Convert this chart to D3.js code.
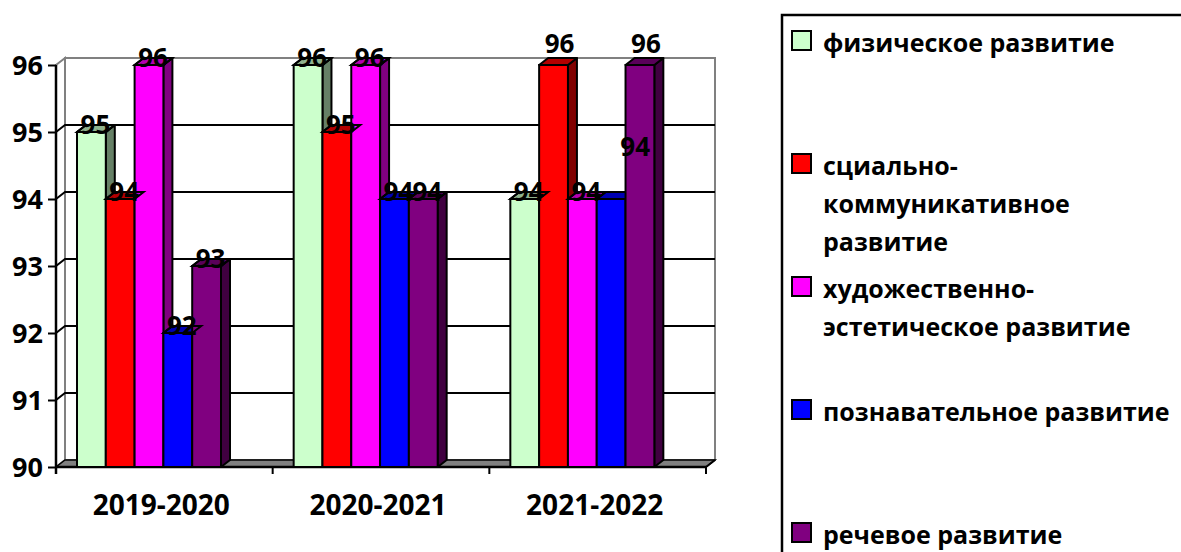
<!DOCTYPE html>
<html>
<head>
<meta charset="utf-8">
<script src="https://cdnjs.cloudflare.com/ajax/libs/d3/7.8.5/d3.min.js"></script>
<style>
  body { margin: 0; background: #fff; }
  text { font-family: "Open Sans", sans-serif; font-weight: bold; fill: #000; }
</style>
</head>
<body>
<svg width="1181" height="552"></svg>
<script>
const years = ['2019-2020', '2020-2021', '2021-2022'];
const seriesNames = [
  'физическое развитие',
  'сциально-коммуникативное развитие',
  'художественно-эстетическое развитие',
  'познавательное развитие',
  'речевое развитие'
];
// legend lines as in the picture
const legendLines = [
  ['физическое развитие'],
  ['сциально-', 'коммуникативное', 'развитие'],
  ['художественно-', 'эстетическое развитие'],
  ['познавательное развитие'],
  ['речевое развитие']
];
const colors = ['#CCFFCC', '#FF0000', '#FF00FF', '#0000FF', '#800080'];
// values per year, one per series
const values2019 = [95, 94, 96, 92, 93];
const values2020 = [96, 95, 96, 94, 94];
const values2021 = [94, 96, 94, 94, 96];
const yTicks = [90, 91, 92, 93, 94, 95, 96];

const valuesByYear = [values2019, values2020, values2021];

const svg = d3.select('svg');

// plot frame (front plane) and 3d depth
const pLeft = 56, pRight = 706, pTop = 65, pBottom = 467;
const dx = 9, dy = -7;

const y = d3.scaleLinear().domain([90, 96]).range([pBottom, pTop]);
const x0 = d3.scaleBand().domain(years).range([pLeft, pRight]);
const groupPad = 21, groupWidth = 144;
const x1 = d3.scaleBand().domain(d3.range(seriesNames.length)).range([0, groupWidth]);

const g = svg.append('g');

// back wall
g.append('rect')
  .attr('x', pLeft + dx).attr('y', pTop + dy)
  .attr('width', pRight - pLeft).attr('height', pBottom - pTop)
  .attr('fill', '#fff').attr('stroke', '#808080').attr('stroke-width', 2);

// left wall
g.append('path')
  .attr('d', `M${pLeft},${pTop}L${pLeft + dx},${pTop + dy}L${pLeft + dx},${pBottom + dy}L${pLeft},${pBottom}Z`)
  .attr('fill', '#fff').attr('stroke', '#808080').attr('stroke-width', 2);

// gridlines on walls
yTicks.filter(t => t > 90 && t < 96).forEach(t => {
  g.append('path')
    .attr('d', `M${pLeft},${y(t)}L${pLeft + dx},${y(t) + dy}L${pRight + dx},${y(t) + dy}`)
    .attr('fill', 'none').attr('stroke', '#000').attr('stroke-width', 2);
});

// floor
g.append('path')
  .attr('d', `M${pLeft},${pBottom}L${pRight},${pBottom}L${pRight + dx},${pBottom + dy}L${pLeft + dx},${pBottom + dy}Z`)
  .attr('fill', '#808080').attr('stroke', '#000').attr('stroke-width', 1.5);

// y axis
const yAxisG = g.append('g')
  .attr('transform', `translate(${pLeft},0)`)
  .call(d3.axisLeft(y).tickValues(yTicks).tickSize(8).tickPadding(5).tickFormat(d3.format('d')));
yAxisG.select('.domain').attr('d', `M0,${pTop}V${pBottom + 7}`).attr('stroke', '#000').attr('stroke-width', 2.5);
yAxisG.selectAll('.tick line').attr('stroke', '#000').attr('stroke-width', 2);
yAxisG.selectAll('.tick text')
  .style('font-family', '"Open Sans", sans-serif').style('font-weight', 'bold')
  .attr('font-size', 27).attr('dy', '0.36em');

// x axis
const xAxisG = g.append('g').attr('transform', `translate(0,${pBottom})`);
xAxisG.append('line').attr('x1', pLeft).attr('x2', pRight)
  .attr('stroke', '#000').attr('stroke-width', 2.5);
years.forEach(yr => {
  xAxisG.append('line')
    .attr('x1', x0(yr) + x0.bandwidth()).attr('x2', x0(yr) + x0.bandwidth())
    .attr('y1', 0).attr('y2', 7)
    .attr('stroke', '#000').attr('stroke-width', 2);
});
xAxisG.append('line')
  .attr('x1', pRight).attr('y1', 0).attr('x2', pRight + dx).attr('y2', dy)
  .attr('stroke', '#000').attr('stroke-width', 2);
xAxisG.selectAll('text.cat').data(years).enter().append('text')
  .attr('class', 'cat')
  .attr('x', d => x0(d) + x0.bandwidth() / 2 - 3)
  .attr('y', 48)
  .attr('text-anchor', 'middle')
  .attr('font-size', 28)
  .text(d => d);

// bars
const shade = (c, k) => d3.interpolateRgb(c, '#000')(k);
const bars = [];
years.forEach((yr, ci) => {
  valuesByYear[ci].forEach((v, si) => {
    bars.push({ yr, ci, si, v, x: x0(yr) + groupPad + x1(si), w: x1.bandwidth() });
  });
});

const topPath = d => `M${d.x},${y(d.v)}L${d.x + dx},${y(d.v) + dy}L${d.x + d.w + dx},${y(d.v) + dy}L${d.x + d.w},${y(d.v)}Z`;

const barG = g.selectAll('g.bar').data(bars).enter().append('g').attr('class', 'bar');
barG.append('path')
  .attr('d', d => `M${d.x + d.w},${y(d.v)}L${d.x + d.w + dx},${y(d.v) + dy}L${d.x + d.w + dx},${pBottom + dy}L${d.x + d.w},${pBottom}Z`)
  .attr('fill', d => shade(colors[d.si], 0.5))
  .attr('stroke', '#000').attr('stroke-width', 2).attr('stroke-linejoin', 'round');
barG.append('path')
  .attr('d', topPath)
  .attr('fill', d => shade(colors[d.si], 0.3))
  .attr('stroke', '#000').attr('stroke-width', 2).attr('stroke-linejoin', 'round');
barG.append('rect')
  .attr('x', d => d.x).attr('y', d => y(d.v))
  .attr('width', d => d.w).attr('height', d => pBottom - y(d.v))
  .attr('fill', d => colors[d.si])
  .attr('stroke', '#000').attr('stroke-width', 2);

// value labels (a few are shifted in the original)
const labelShift = { '2|1': [2, -14], '2|4': [2, -14], '2|3': [20, -45] };
const shiftOf = d => labelShift[d.ci + '|' + d.si] || [0, 0];
g.selectAll('text.val').data(bars).enter().append('text')
  .attr('class', 'val')
  .attr('x', d => d.x + d.w / 2 + 4 + shiftOf(d)[0])
  .attr('y', d => y(d.v) + 2 + shiftOf(d)[1])
  .attr('text-anchor', 'middle')
  .attr('font-size', 26)
  .text(d => d.v);

// top edges drawn over the labels
g.selectAll('path.edge').data(bars.filter(d => !labelShift[d.ci + '|' + d.si])).enter().append('path')
  .attr('class', 'edge')
  .attr('d', topPath)
  .attr('fill', 'none').attr('stroke', '#000').attr('stroke-width', 2);

// legend
const legend = svg.append('g');
legend.append('rect')
  .attr('x', 782).attr('y', 15).attr('width', 500).attr('height', 600)
  .attr('fill', '#fff').attr('stroke', '#000').attr('stroke-width', 2.5);
const item = legend.selectAll('g.item').data(seriesNames).enter().append('g')
  .attr('class', 'item')
  .attr('transform', (d, i) => `translate(792,${52 + i * 123})`);
item.append('rect')
  .attr('x', 0).attr('y', -21).attr('width', 19).attr('height', 19)
  .attr('fill', (d, i) => colors[i]).attr('stroke', '#000').attr('stroke-width', 2);
item.append('text')
  .attr('x', 31).attr('y', 0)
  .attr('font-size', 25)
  .selectAll('tspan').data((d, i) => legendLines[i]).enter().append('tspan')
  .attr('x', 31).attr('dy', (d, i) => i === 0 ? 0 : 38)
  .text(d => d);
</script>
</body>
</html>
